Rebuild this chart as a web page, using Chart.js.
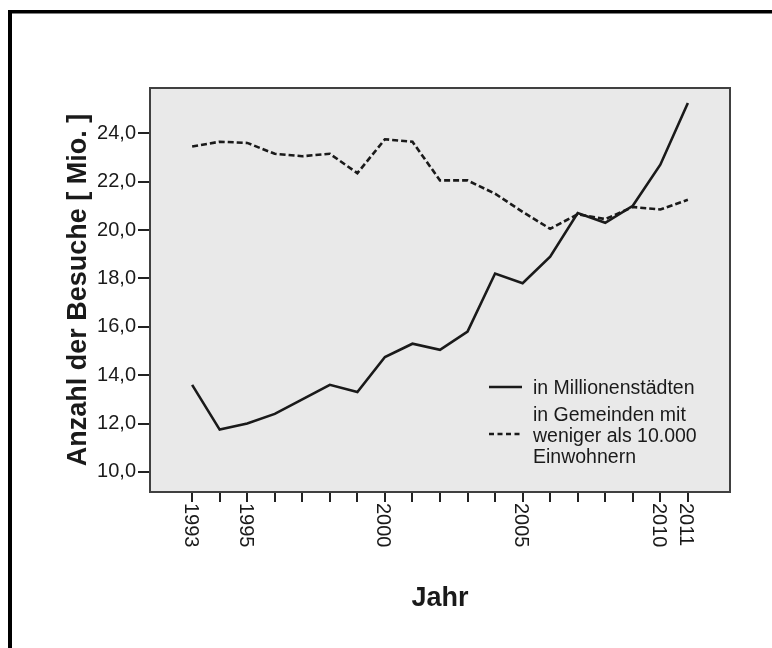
<!DOCTYPE html>
<html>
<head>
<meta charset="utf-8">
<script src="https://cdn.jsdelivr.net/npm/chart.js@4.4.1/dist/chart.umd.min.js"></script>
<style>
  html, body { margin: 0; padding: 0; background: #fff; }
  canvas { display: block; }
</style>
</head>
<body>
<canvas id="lineChart" width="772" height="648"></canvas>
<script>
// Besuche in Mio. je Jahr
const years = [1993, 1994, 1995, 1996, 1997, 1998, 1999, 2000, 2001, 2002,
               2003, 2004, 2005, 2006, 2007, 2008, 2009, 2010, 2011];
const millionenstaedte = [13.6, 11.75, 12.0, 12.4, 13.0, 13.6, 13.3, 14.75, 15.3, 15.05,
                          15.8, 18.2, 17.8, 18.9, 20.7, 20.3, 21.0, 22.7, 25.25];
const kleineGemeinden = [23.45, 23.65, 23.6, 23.15, 23.05, 23.15, 22.35, 23.75, 23.65, 22.05,
                         22.05, 21.5, 20.75, 20.05, 20.65, 20.45, 20.95, 20.85, 21.25];
const yearLabels = [1993, 1995, 2000, 2005, 2010, 2011];
const yTicks = [10, 12, 14, 16, 18, 20, 22, 24];
const legendMillionen = ['in Millionenstädten'];
const legendGemeinden = ['in Gemeinden mit', 'weniger als 10.000', 'Einwohnern'];

const TEXT = '#1a1a1a';
const FONT = '"Liberation Sans", Arial, sans-serif';

const toPoints = vals => years.map((y, i) => ({ x: y, y: vals[i] }));

// Hintergrund, Rahmen, Jahreszahlen und Legende selbst zeichnen
const spssLook = {
  id: 'spssLook',
  beforeDatasetsDraw(chart) {
    const { ctx, chartArea: a } = chart;
    ctx.save();
    ctx.fillStyle = '#e9e9e9';
    ctx.fillRect(a.left, a.top, a.right - a.left, a.bottom - a.top);
    ctx.restore();
  },
  afterDraw(chart) {
    const { ctx, chartArea: a } = chart;
    const xs = chart.scales.x;
    ctx.save();

    // Rahmen um den Plot
    ctx.strokeStyle = '#404040';
    ctx.lineWidth = 2;
    ctx.strokeRect(a.left, a.top, a.right - a.left, a.bottom - a.top);

    // Jahreszahlen, im Uhrzeigersinn gedreht
    ctx.fillStyle = TEXT;
    ctx.font = '20px ' + FONT;
    ctx.textAlign = 'left';
    ctx.textBaseline = 'middle';
    yearLabels.forEach(yr => {
      ctx.save();
      ctx.translate(xs.getPixelForValue(yr) - 2, a.bottom + 11);
      ctx.rotate(Math.PI / 2);
      ctx.fillText(String(yr), 0, 0);
      ctx.restore();
    });

    // Legende
    const lx1 = a.left + 339, lx2 = a.left + 372, tx = a.left + 383;
    ctx.strokeStyle = TEXT;
    ctx.lineWidth = 2.5;
    ctx.beginPath();
    ctx.moveTo(lx1, 387); ctx.lineTo(lx2, 387);
    ctx.stroke();
    ctx.font = '19.5px ' + FONT;
    ctx.fillText(legendMillionen[0], tx, 389);

    ctx.setLineDash([5, 3.5]);
    ctx.beginPath();
    ctx.moveTo(lx1, 434); ctx.lineTo(lx2, 434);
    ctx.stroke();
    ctx.setLineDash([]);
    legendGemeinden.forEach((t, i) => ctx.fillText(t, tx, 416 + i * 21));

    // äußerer schwarzer Rahmen
    ctx.fillStyle = '#000';
    ctx.fillRect(8, 10, 4, 648);
    ctx.fillRect(8, 10, 772, 3.5);
    ctx.restore();
  }
};

const ctx = document.getElementById('lineChart').getContext('2d');
new Chart(ctx, {
  type: 'line',
  data: {
    datasets: [{
      label: legendMillionen.join(' '),
      data: toPoints(millionenstaedte),
      borderColor: TEXT,
      borderWidth: 2.6,
      pointRadius: 0,
      tension: 0,
      fill: false
    }, {
      label: legendGemeinden.join(' '),
      data: toPoints(kleineGemeinden),
      borderColor: TEXT,
      borderWidth: 2.6,
      borderDash: [6, 3],
      pointRadius: 0,
      tension: 0,
      fill: false
    }]
  },
  options: {
    responsive: false,
    animation: false,
    layout: { padding: { top: 88, right: 42, bottom: 0, left: 0 } },
    plugins: {
      legend: { display: false },
      tooltip: { enabled: false }
    },
    scales: {
      x: {
        type: 'linear',
        min: 1991.47,
        max: 2012.53,
        afterBuildTicks: s => { s.ticks = years.map(v => ({ value: v })); },
        afterFit: s => { s.height = 156; },
        ticks: { display: false },
        grid: { drawOnChartArea: false, drawTicks: true, tickLength: 10, color: '#222', lineWidth: 2 },
        border: { display: false },
        title: {
          display: true,
          text: 'Jahr',
          color: TEXT,
          font: { family: FONT, size: 27, weight: 'bold' },
          padding: { top: 0, bottom: 33 }
        }
      },
      y: {
        min: 9.17,
        max: 25.87,
        afterBuildTicks: s => { s.ticks = yTicks.map(v => ({ value: v })); },
        afterFit: s => { s.width = 150; },
        ticks: {
          color: TEXT,
          padding: 2,
          font: { family: FONT, size: 20 },
          callback: v => v.toFixed(1).replace('.', ',')
        },
        grid: { drawOnChartArea: false, drawTicks: true, tickLength: 12, color: '#222', lineWidth: 2 },
        border: { display: false },
        title: {
          display: true,
          text: 'Anzahl der Besuche [ Mio. ]',
          color: TEXT,
          font: { family: FONT, size: 27, weight: 'bold' },
          padding: { top: 62, bottom: 0 }
        }
      }
    }
  },
  plugins: [spssLook]
});
</script>
</body>
</html>
